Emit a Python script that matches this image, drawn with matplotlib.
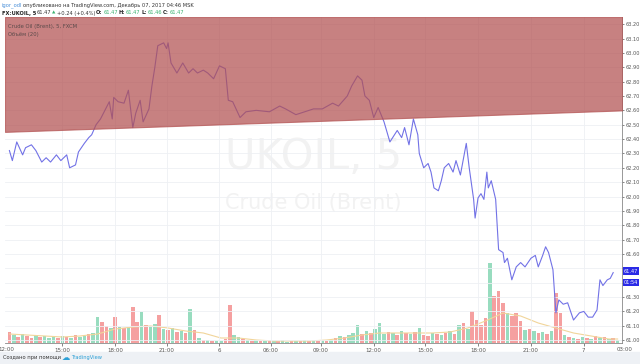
import matplotlib.pyplot as plt
from matplotlib.patches import Rectangle
from matplotlib.transforms import blended_transform_factory

# price line (5-min bar index, price)
bars = [0, 2, 5, 9, 11, 15, 18, 22, 25, 28, 32, 35, 39, 41, 45, 47, 51, 54, 56, 59,
        62, 64, 68, 70, 71, 74, 78, 81, 84, 86, 89, 91, 95, 97, 99, 101, 105, 107, 108, 110,
        114, 118, 122, 125, 128, 132, 135, 139, 143, 147, 149, 152, 157, 161, 168, 177, 184, 188, 195, 201,
        207, 213, 220, 224, 230, 233, 237, 240, 242, 245, 248, 251, 255, 259, 264, 267, 269, 272, 275, 278,
        279, 282, 285, 287, 289, 292, 294, 296, 299, 302, 304, 307, 311, 313, 316, 317, 319, 321, 323, 325,
        326, 328, 331, 333, 336, 337, 339, 342, 345, 348, 351, 355, 358, 360, 363, 365, 367, 370, 372, 374,
        377, 380, 384, 388, 391, 394, 397, 400, 402, 404, 407, 409, 411]
price = [62.32, 62.25, 62.38, 62.29, 62.34, 62.36, 62.32, 62.24, 62.27, 62.24, 62.29, 62.25, 62.29, 62.20, 62.22, 62.31, 62.37, 62.41, 62.43, 62.50,
         62.54, 62.58, 62.66, 62.54, 62.69, 62.66, 62.65, 62.74, 62.48, 62.58, 62.67, 62.52, 62.61, 62.77, 62.90, 63.05, 63.07, 63.03, 63.07, 62.93,
         62.86, 62.93, 62.86, 62.89, 62.86, 62.88, 62.86, 62.82, 62.91, 62.89, 62.67, 62.66, 62.55, 62.59, 62.60, 62.59, 62.63, 62.61, 62.57, 62.59,
         62.61, 62.61, 62.65, 62.63, 62.70, 62.77, 62.84, 62.81, 62.70, 62.67, 62.55, 62.62, 62.52, 62.38, 62.46, 62.41, 62.48, 62.36, 62.54, 62.43,
         62.30, 62.20, 62.23, 62.17, 62.06, 62.04, 62.11, 62.20, 62.23, 62.17, 62.25, 62.15, 62.37, 62.20, 61.98, 61.85, 61.99, 62.02, 61.98, 62.17,
         62.06, 62.11, 61.98, 61.63, 61.61, 61.54, 61.57, 61.42, 61.51, 61.54, 61.51, 61.57, 61.59, 61.51, 61.59, 61.65, 61.61, 61.49, 61.19, 61.28,
         61.25, 61.26, 61.14, 61.19, 61.20, 61.16, 61.16, 61.21, 61.42, 61.38, 61.42, 61.43, 61.47]

# volume, one bar every 3 bars from bar 0
volume = [110, 80, 60, 90, 70, 50, 80, 60, 70, 50,
          60, 50, 70, 60, 50, 80, 60, 70, 90, 100,
          260, 210, 170, 150, 260, 160, 150, 160, 360, 210,
          310, 180, 170, 190, 280, 140, 130, 150, 110, 120,
          100, 340, 130, 50, 30, 30, 20, 20, 20, 40,
          380, 80, 60, 40, 30, 20, 30, 20, 20, 30,
          20, 20, 30, 10, 20, 20, 20, 30, 20, 30,
          20, 30, 20, 30, 50, 70, 60, 80, 100, 180,
          90, 120, 100, 140, 200, 90, 110, 100, 80, 120,
          100, 90, 110, 150, 80, 70, 100, 90, 80, 100,
          120, 90, 180, 200, 140, 320, 230, 180, 250, 800,
          470, 520, 400, 300, 270, 300, 220, 130, 140, 120,
          100, 110, 90, 120, 500, 300, 80, 60, 50, 40,
          60, 50, 40, 70, 50, 60, 40, 50, 30]
vol_colors = ("rgrgrrgrgg" "grgrgrggrg" "grrgrgrgrr" "grggrgrgrg"
              "rgrgrgrggr" "rggrgrgrgr" "grggrgrgrg" "rgrgrgrggg"
              "rgrgggrgrg" "rgrgrrgrgr" "grgrgrrrrg" "rrrgrrrgrg"
              "rgrgrrgrgr" "grgrgrgrg")
vol_ma_bars = [0, 12, 24, 36, 48, 60, 72, 84, 96, 108, 120, 132, 144, 156, 168, 180, 192, 204,
               216, 228, 240, 252, 264, 276, 288, 300, 312, 324, 336, 348, 360, 372, 384, 396, 408, 414]
vol_ma = [90, 80, 70, 60, 70, 90, 140, 160, 170, 150, 120, 100, 50, 50, 30, 20, 20, 20,
          30, 50, 80, 100, 100, 100, 100, 110, 150, 220, 300, 270, 200, 150, 100, 70, 40, 40]

# drawn zone (bar, lower edge price)
zone_bars = [-3, 418]
zone_low = [62.45, 62.60]
zone_top = 63.25

tick_bars = [36, 72, 107, 143, 178, 212, 248, 283, 319, 355, 391]
tick_labels = ["15:00", "18:00", "21:00", "6", "06:00", "09:00", "12:00", "15:00", "18:00", "21:00", "7"]
price_ticks = [61.0 + 0.1 * i for i in range(23)]
# 61.50 sits under the last-price tags
price_labels = ["" if abs(p - 61.5) < 0.01 else f"{p:.2f}" for p in price_ticks]

fig = plt.figure(figsize=(6.4, 3.64), dpi=100)
fig.patch.set_facecolor("white")
fig.patches.append(Rectangle((0, 0), 1, 12 / 364, transform=fig.transFigure, color="#eef1f5", zorder=0))

ax = fig.add_axes([5 / 640, 21 / 364, 617 / 640, 326 / 364])
axv = ax.twinx()
ax.set_zorder(axv.get_zorder() + 1)
ax.patch.set_visible(False)
axv.patch.set_facecolor("white")

# volume
vx = [3 * i for i in range(len(volume))]
cols = ["#f5a0a0" if c == "r" else "#98dcbf" for c in vol_colors]
axv.bar(vx, volume, width=2.4, color=cols, linewidth=0)
axv.plot(vol_ma_bars, vol_ma, color="#f1d59a", lw=0.8)
axv.set_ylim(0, 3260)
axv.set_yticks([])
for s in axv.spines.values():
    s.set_visible(False)

# price
ax.plot(bars, price, color="#7272e6", lw=0.8, zorder=2)
ax.fill_between(zone_bars, zone_low, [zone_top, zone_top], color="#b25050", alpha=0.72,
                linewidth=0.8, edgecolor="#b25050", zorder=3)

ax.set_xlim(-3, 417)
ax.set_ylim(60.98, 63.25)
ax.set_xticks(tick_bars)
ax.set_xticklabels(tick_labels)
ax.set_yticks(price_ticks)
ax.set_yticklabels(price_labels)
ax.yaxis.tick_right()
ax.tick_params(axis="x", labelsize=4, colors="#555555", length=2, width=0.5, pad=1.5)
ax.tick_params(axis="y", labelsize=3.6, colors="#555555", length=1.5, width=0.5, pad=0.8)
ax.grid(True, color="#eef0f4", lw=0.6, zorder=0)
for s in ["top", "left"]:
    ax.spines[s].set_visible(False)
ax.spines["right"].set_color("#888888")
ax.spines["bottom"].set_color("#888888")
ax.spines["right"].set_linewidth(0.6)
ax.spines["bottom"].set_linewidth(0.6)

tb = blended_transform_factory(ax.transData, ax.transAxes)
ax.text(-2, -0.012, "12:00", transform=tb, ha="center", va="top", fontsize=4, color="#555555", clip_on=False)
ax.text(419, -0.012, "03:00", transform=tb, ha="center", va="top", fontsize=4, color="#555555", clip_on=False)

# watermark
ax.text(0.5, 0.57, "UKOIL, 5", transform=ax.transAxes, ha="center", va="center",
        fontsize=30, color="#f2f2f2", zorder=1)
ax.text(0.5, 0.43, "Crude Oil (Brent)", transform=ax.transAxes, ha="center", va="center",
        fontsize=15, color="#f2f2f2", zorder=1)

# legend texts inside chart
ax.text(0.005, 0.98, "Crude Oil (Brent), 5, FXCM", transform=ax.transAxes, fontsize=3.8,
        color="#5a4a4a", va="top", zorder=5)
ax.text(0.005, 0.955, "Объём (20)", transform=ax.transAxes, fontsize=3.8,
        color="#5a4a4a", va="top", zorder=5)

# last price labels
yb = blended_transform_factory(ax.transAxes, ax.transData)
ax.text(1.003, 61.48, "61.47", transform=yb, fontsize=3.6, color="white", va="center", ha="left",
        zorder=6, bbox=dict(boxstyle="square,pad=0.25", fc="#2a2ae6", ec="none"))
ax.text(1.003, 61.40, "01:54", transform=yb, fontsize=3.6, color="white", va="center", ha="left",
        zorder=6, bbox=dict(boxstyle="square,pad=0.25", fc="#2a2ae6", ec="none"))


# header / footer texts, chained left to right
def line(x, y, parts, size=3.7):
    prev = fig.text(x / 640, 1 - y / 364, parts[0][0], va="center", fontsize=size, **parts[0][1])
    for s, kw in parts[1:]:
        kw = dict(kw)
        fs = kw.pop("fontsize", size)
        prev = ax.annotate(s, xy=(1, 0.5), xycoords=prev, xytext=(0.6, 0), textcoords="offset points",
                           va="center", fontsize=fs, annotation_clip=False, **kw)


dark = {"color": "#333333"}
green = {"color": "#3cb371"}
line(2, 5, [("igor_odl", {"color": "#4a90d9"}),
            ("опубликовано на TradingView.com, Декабрь 07, 2017 04:46 MSK", dark)])
line(2, 13, [("FX:UKOIL, 5", {"color": "#222222", "fontweight": "bold"}),
             ("61.47", dark),
             ("▲", {"color": "#3cb371", "fontsize": 3.2}),
             ("+0.24 (+0.4%)", dark),
             ("O:", {"color": "#222222", "fontweight": "bold"}), ("61.47", green),
             ("H:", {"color": "#222222", "fontweight": "bold"}), ("61.47", green),
             ("L:", {"color": "#222222", "fontweight": "bold"}), ("61.46", green),
             ("C:", {"color": "#222222", "fontweight": "bold"}), ("61.47", green)])
line(3, 357, [("Создано при помощи", dark),
              ("☁", {"color": "#2a9fd6", "fontsize": 6}),
              ("TradingView", {"color": "#2a9fd6"})])

fig.savefig("out.png", dpi=100)
